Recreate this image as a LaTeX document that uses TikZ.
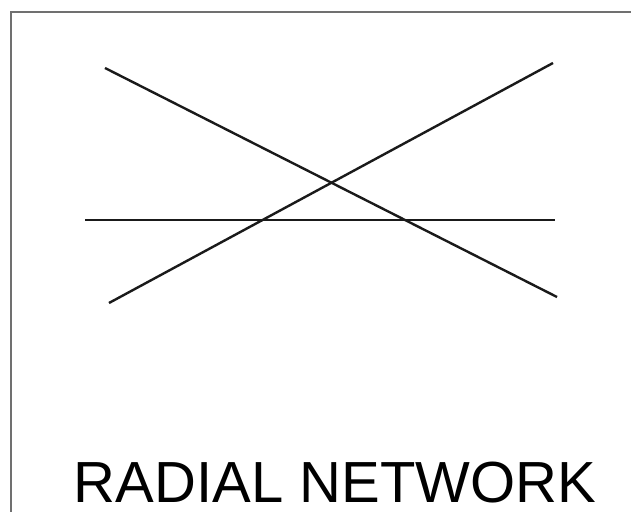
\documentclass[tikz,border=0pt]{standalone}
\usepackage{fontspec}
\usepackage{xcolor}
\newfontfamily\labelfont{Liberation Sans}
\definecolor{framegray}{HTML}{707070}
\definecolor{linedark}{HTML}{1A1A1A}

\begin{document}
\begin{tikzpicture}[
  x=1pt, y=1pt,
  feeder/.style={draw=linedark, line width=2.4pt},
  frame/.style={draw=framegray, line width=2pt},
  caption/.style={font=\labelfont\fontsize{58}{60}\selectfont, inner sep=0pt, anchor=base}
]
  \useasboundingbox (0,0) rectangle (631,511);
  % frame (runs off the right and bottom)
  \coordinate (fbl) at (11,-2);
  \coordinate (ftl) at (11,499);
  \coordinate (ftr) at (633,499);
  \draw[frame] (fbl) -- (ftl) -- (ftr);
  % feeder lines
  \coordinate (a1) at (105,443);
  \coordinate (a2) at (557,214);
  \coordinate (b1) at (109,208);
  \coordinate (b2) at (553,448);
  \coordinate (c1) at (85,291);
  \coordinate (c2) at (555,291);
  \draw[feeder] (a1) -- (a2);
  \draw[feeder] (b1) -- (b2);
  \draw[feeder] (c1) -- (c2);
  % caption
  \node[caption] (title) at (335,9) {RADIAL NETWORK};
\end{tikzpicture}
\end{document}
